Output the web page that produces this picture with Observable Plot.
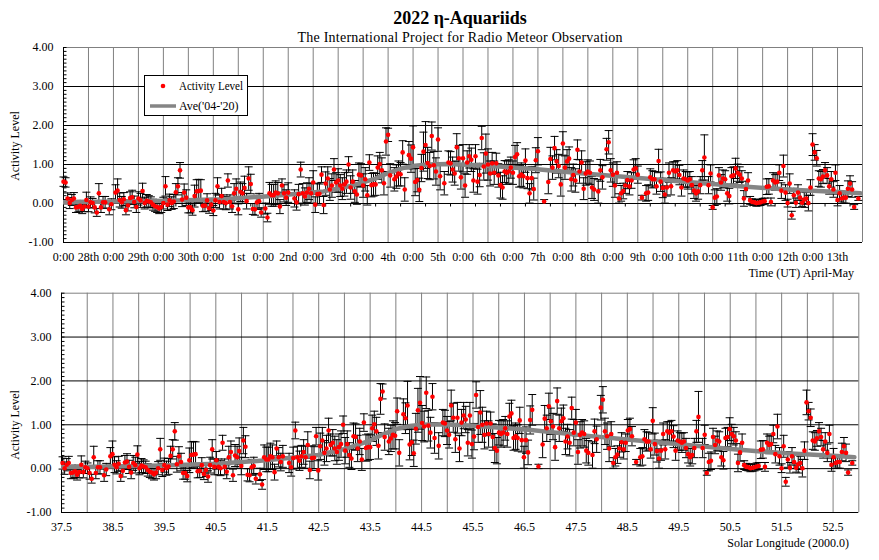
<!DOCTYPE html>
<html><head><meta charset="utf-8">
<script src="https://cdn.jsdelivr.net/npm/d3@7"></script>
<script src="https://cdn.jsdelivr.net/npm/@observablehq/plot@0.6"></script>
<style>
body{margin:0;background:#fff;}
#wrap{position:relative;width:879px;height:560px;overflow:hidden;background:#fff;font-family:"Liberation Serif","Times New Roman",serif;}
#wrap svg{position:absolute;left:0;}
</style></head><body><div id="wrap"></div>
<script>
// Hourly activity level, index = hours since 2022-04-28 00:00 UT (null = no data)
const activity = [
0.56,0.54,0.13,0.01,0.09,0.13,-0.10,-0.09,-0.06,-0.14,-0.08,0.09,
-0.08,0.03,0.01,-0.10,-0.23,0.26,-0.10,0.03,0.03,null,-0.15,-0.02,
null,0.28,0.33,0.09,0.03,0.11,-0.17,-0.05,0.14,0.16,0.04,-0.09,
0.13,0.08,0.32,0.01,0.07,0.05,0.03,-0.03,-0.07,-0.09,-0.13,-0.09,
0.01,0.44,-0.03,0.08,0.01,0.05,0.29,0.44,0.85,0.10,0.28,0.15,
-0.10,-0.10,-0.17,0.19,0.31,0.32,0.33,-0.06,-0.05,0.08,-0.12,-0.03,
-0.18,0.08,0.44,0.04,0.19,0.04,0.01,0.59,0.04,-0.07,0.26,0.38,
-0.15,0.30,0.26,0.40,0.06,0.64,0.50,-0.14,-0.15,0.03,0.06,-0.23,
null,-0.13,-0.36,0.26,0.21,0.21,0.28,0.26,-0.08,0.46,0.26,0.15,
0.28,null,null,0.13,0.03,0.24,0.87,0.26,0.18,0.28,0.38,0.26,
0.54,-0.03,0.24,0.25,0.74,-0.04,0.51,0.64,0.36,0.46,0.87,0.54,
0.59,0.46,0.38,0.49,0.56,1.00,0.41,0.56,0.31,0.23,0.74,0.72,
0.46,0.62,0.21,1.05,0.47,0.49,0.49,0.92,1.01,0.85,0.52,1.59,
1.76,0.72,null,0.62,0.69,0.77,0.75,1.31,0.36,null,1.24,1.15,
1.44,0.55,0.60,0.35,0.91,1.33,1.50,1.04,0.96,1.73,0.98,0.82,
1.64,0.70,null,0.52,null,1.05,1.03,0.87,0.77,1.44,1.16,0.67,
1.16,0.46,1.05,1.21,1.12,0.59,1.21,0.56,0.73,1.68,0.95,1.28,
1.00,0.77,1.03,0.79,1.03,0.72,0.47,0.41,0.82,0.79,0.82,0.92,
0.79,1.19,1.26,0.70,0.74,0.70,1.10,0.65,0.26,0.65,0.37,1.11,
1.34,null,null,0.05,null,0.55,1.14,0.92,1.42,1.08,0.96,0.49,
1.54,0.92,1.08,1.15,0.62,0.73,0.59,1.38,0.82,1.05,0.38,0.77,
0.82,0.79,0.41,0.36,null,0.31,0.85,0.67,null,1.39,1.57,0.85,
0.74,0.46,0.79,0.13,0.26,0.32,0.46,0.60,0.44,0.59,0.87,0.90,
0.74,null,0.15,null,0.26,0.28,0.67,0.62,0.62,0.44,1.09,0.56,
0.40,0.23,0.41,0.79,0.44,0.85,0.82,0.85,0.73,0.41,0.64,0.62,
0.59,0.62,0.47,0.33,0.26,0.31,0.47,0.85,1.18,null,0.47,0.77,
-0.10,0.15,0.18,0.72,0.54,0.64,0.62,0.26,0.19,0.70,0.72,0.90,
0.79,0.74,0.64,0.13,0.37,0.59,0.08,0.04,0.03,0.01,0.02,0.03,
0.05,0.06,0.43,0.44,0.04,0.59,0.54,0.56,0.79,0.33,0.96,0.28,
0.01,0.51,-0.30,0.21,0.02,0.28,0.15,0.02,0.10,0.13,0.01,0.41,
1.51,1.31,1.16,0.64,0.62,0.69,0.85,0.72,0.44,0.62,0.36,0.79,
0.09,0.26,0.13,0.15,0.15,0.38,0.51,0.36,-0.09,null,0.13,null
];
// Error (half length of the bar) for each hourly value
const errors = [
0.12,0.12,0.14,0.14,0.14,0.15,0.13,0.13,0.14,0.12,0.13,0.20,
0.13,0.14,0.12,0.14,0.10,0.25,0.13,0.15,0.15,null,0.14,0.14,
null,0.20,0.30,0.18,0.15,0.17,0.12,0.14,0.16,0.18,0.15,0.14,
0.17,0.18,0.20,0.15,0.16,0.15,0.14,0.14,0.13,0.14,0.13,0.14,
0.15,0.25,0.15,0.16,0.16,0.18,0.22,0.22,0.20,0.18,0.22,0.20,
0.14,0.14,0.13,0.28,0.30,0.30,0.28,0.15,0.15,0.17,0.13,0.15,
0.13,0.18,0.22,0.18,0.20,0.18,0.17,0.17,0.18,0.16,0.25,0.25,
0.14,0.25,0.25,0.30,0.20,0.30,0.25,0.14,0.15,0.18,0.20,0.12,
null,0.14,0.11,0.28,0.28,0.28,0.30,0.28,0.18,0.17,0.22,0.20,
0.25,null,null,0.22,0.20,0.25,0.19,0.25,0.22,0.25,0.28,0.25,
0.30,0.20,0.28,0.25,0.20,0.22,0.30,0.30,0.28,0.30,0.28,0.25,
0.30,0.28,0.28,0.30,0.30,0.20,0.30,0.30,0.28,0.25,0.30,0.30,
0.30,0.30,0.25,0.20,0.30,0.30,0.28,0.30,0.30,0.32,0.30,0.35,
0.17,0.30,null,0.30,0.30,0.32,0.30,0.30,0.30,null,0.35,0.35,
0.55,0.35,0.30,0.30,0.35,0.50,0.60,0.40,0.35,0.36,0.35,0.35,
0.30,0.35,null,0.30,null,0.30,0.30,0.32,0.30,0.35,0.33,0.30,
0.35,0.30,0.30,0.30,0.30,0.30,0.30,0.32,0.30,0.30,0.35,0.50,
0.40,0.32,0.28,0.30,0.26,0.30,0.33,0.30,0.28,0.30,0.30,0.27,
0.30,0.30,0.30,0.28,0.30,0.30,0.30,0.27,0.25,0.30,0.28,0.32,
0.35,null,null,0.05,null,0.30,0.30,0.30,0.30,0.30,0.30,0.30,
0.30,0.30,0.30,0.30,0.30,0.28,0.30,0.25,0.30,0.30,0.28,0.30,
0.30,0.30,0.28,0.28,null,0.30,0.28,0.30,null,0.28,0.30,0.30,
0.30,0.30,0.28,0.12,0.20,0.20,0.20,0.22,0.22,0.20,0.25,0.25,
0.22,null,0.06,null,0.20,0.20,0.22,0.22,0.20,0.20,0.30,0.25,
0.25,0.22,0.22,0.25,0.22,0.22,0.25,0.25,0.25,0.22,0.22,0.20,
0.22,0.20,0.22,0.20,0.20,0.20,0.22,0.25,0.58,null,0.22,0.22,
0.05,0.20,0.20,0.20,0.20,0.22,0.22,0.20,0.20,0.22,0.22,0.26,
0.22,0.20,0.20,0.20,0.20,0.20,0.10,0.08,0.08,0.08,0.08,0.08,
0.08,0.08,0.20,0.20,0.10,0.20,0.20,0.20,0.20,0.20,0.28,0.20,
0.10,0.25,0.10,0.18,0.12,0.20,0.15,0.10,0.20,0.15,0.20,0.20,
0.28,0.20,0.20,0.20,0.20,0.18,0.20,0.20,0.20,0.20,0.20,0.20,
0.15,0.20,0.12,0.14,0.14,0.20,0.20,0.20,0.06,null,0.05,null
];
// Average 2004-2020 curve: hours and levels
const aveHours  = [0,24,50,76,100,125,138,150,157,163,169,175,185,200,225,250,275,300,325,350,375,383];
const aveLevels = [0.03,0.05,0.07,0.11,0.19,0.31,0.45,0.64,0.80,0.91,0.97,1.00,1.01,0.98,0.89,0.77,0.66,0.55,0.44,0.35,0.29,0.26];
// Solar longitude (J2000) at 2022-04-28 00:00 UT and its rate per hour
const SOL_START = 37.44, SOL_PER_HOUR = 0.0404;
// Axis tick labels
const timeTickLabels = ["0:00","28th","0:00","29th","0:00","30th","0:00","1st","0:00","2nd","0:00","3rd","0:00","4th","0:00","5th","0:00","6th","0:00","7th","0:00","8th","0:00","9th","0:00","10th","0:00","11th","0:00","12th","0:00","13th"];
const solTickLabels = ["37.5","38.5","39.5","40.5","41.5","42.5","43.5","44.5","45.5","46.5","47.5","48.5","49.5","50.5","51.5","52.5"];
const yTickLabels = ["-1.00","0.00","1.00","2.00","3.00","4.00"];

const pts = activity.map((v,i)=>({h:i, v, e:errors[i], sol: SOL_START + i*SOL_PER_HOUR})).filter(d=>d.v!=null);
const ave = aveHours.map((h,i)=>({h, v: aveLevels[i], sol: SOL_START + h*SOL_PER_HOUR}));
const ptsSol = pts.filter(d=>d.sol>=37.5);

const capSym = {draw(ctx){ctx.moveTo(-4,0);ctx.lineTo(4,0);}};
const yMinorSym = {draw(ctx){ctx.moveTo(0,0);ctx.lineTo(3,0);}};
const xMinorSym = {draw(ctx){ctx.moveTo(0,0);ctx.lineTo(0,3);}};
const yMinor = d3.range(-10,41).map(i=>i/10);
const yMajor = [-1,0,1,2,3,4];

function panel({xKey, domain, gridTicks, labelTicks, labelFmt, ml, mr, mt, mb, data, zeroTicks}){
  return Plot.plot({
    width: 879, height: 280,
    marginLeft: ml, marginRight: mr, marginTop: mt, marginBottom: mb,
    x: {domain}, y: {domain:[-1,4]},
    style: {fontFamily:'"Liberation Serif","Times New Roman",serif', fontSize:"12px", background:"transparent", color:"#000", overflow:"visible"},
    marks: [
      Plot.gridX(gridTicks, {stroke:"#808080", strokeOpacity:1}),
      Plot.gridY([-1,0,1,2,3], {stroke:"#000", strokeOpacity:1}),
      Plot.ruleY([4], {stroke:"#808080"}),
      Plot.ruleX([domain[0]], {stroke:"#000"}),
      Plot.dot(yMinor, {x: ()=>domain[0], y: d=>d, symbol: yMinorSym, fill:"none", stroke:"#000", strokeWidth:1}),
      zeroTicks ? Plot.dot(zeroTicks, {x: d=>d, y: ()=>0, symbol: xMinorSym, fill:"none", stroke:"#000", strokeWidth:1}) : null,
      Plot.ruleX(data, {x:xKey, y1:d=>d.v-d.e, y2:d=>d.v+d.e, stroke:"#000", strokeWidth:1}),
      Plot.dot(data, {x:xKey, y:d=>d.v+d.e, symbol:capSym, fill:"none", stroke:"#000", strokeWidth:1}),
      Plot.dot(data, {x:xKey, y:d=>d.v-d.e, symbol:capSym, fill:"none", stroke:"#000", strokeWidth:1}),
      Plot.line(ave, {x:xKey, y:"v", stroke:"#858585", strokeWidth:4.5, clip:true}),
      Plot.dot(data, {x:xKey, y:"v", r:2.3, fill:"#ff0000", stroke:"none"}),
      Plot.axisX(labelTicks, {tickSize:0, tickPadding:10, tickFormat: labelFmt, label:null}),
      Plot.axisY(yMajor, {tickSize:0, tickPadding:10, tickFormat: d=>yTickLabels[yMajor.indexOf(d)], label:null})
    ]
  });
}

const wrap = document.getElementById("wrap");
const timeTicks = d3.range(0,32).map(i=>i*12);
const topPlot = panel({
  xKey:"h", domain:[0,384],
  gridTicks: d3.range(1,33).map(i=>i*12),
  labelTicks: timeTicks, labelFmt: d=>timeTickLabels[Math.round(d/12)],
  ml:63, mr:17, mt:47, mb:38, data: pts,
  zeroTicks: d3.range(0,32).map(i=>i*12+6)
});
topPlot.style.top = "0px";
wrap.appendChild(topPlot);

const solTicks = d3.range(0,16).map(i=>37.5+i);
const bottomPlot = panel({
  xKey:"sol", domain:[37.5,53],
  gridTicks: d3.range(1,32).map(i=>37.5+i*0.5),
  labelTicks: solTicks, labelFmt: d=>solTickLabels[Math.round(d-37.5)],
  ml:61, mr:20.7, mt:12.7, mb:48, data: ptsSol, zeroTicks: null
});
bottomPlot.style.top = "280px";
wrap.appendChild(bottomPlot);

// overlay: titles, axis titles, legend
const ov = d3.select(wrap).append("svg").attr("width",879).attr("height",560)
  .style("top","0px").style("pointer-events","none")
  .style("font-family",'"Liberation Serif","Times New Roman",serif');
ov.append("text").attr("x",460).attr("y",24).attr("text-anchor","middle")
  .attr("font-size",18).attr("font-weight","bold").text("2022 η-Aquariids");
ov.append("text").attr("x",460).attr("y",41.5).attr("text-anchor","middle")
  .attr("font-size",14).attr("textLength",325).attr("lengthAdjust","spacing")
  .text("The International Project for Radio Meteor Observation");
ov.append("text").attr("transform","translate(19,146) rotate(-90)").attr("text-anchor","middle")
  .attr("font-size",12).text("Activity Level");
ov.append("text").attr("transform","translate(19,425) rotate(-90)").attr("text-anchor","middle")
  .attr("font-size",12).text("Activity Level");
ov.append("text").attr("x",854).attr("y",277).attr("text-anchor","end")
  .attr("font-size",12).text("Time (UT) April-May");
ov.append("text").attr("x",849).attr("y",546.5).attr("text-anchor","end")
  .attr("font-size",12).text("Solar Longitude (2000.0)");
const lg = ov.append("g");
lg.append("rect").attr("x",144.5).attr("y",75.5).attr("width",103).attr("height",40)
  .attr("fill","#fff").attr("stroke","#000");
lg.append("circle").attr("cx",163).attr("cy",86).attr("r",2.3).attr("fill","#ff0000");
lg.append("text").attr("x",179).attr("y",89.5).attr("font-size",12)
  .attr("textLength",64).attr("lengthAdjust","spacingAndGlyphs").text("Activity Level");
lg.append("line").attr("x1",150).attr("x2",176).attr("y1",106).attr("y2",106)
  .attr("stroke","#858585").attr("stroke-width",3.5);
lg.append("text").attr("x",179).attr("y",109.5).attr("font-size",12).text("Ave('04-'20)");
</script>
</body></html>
